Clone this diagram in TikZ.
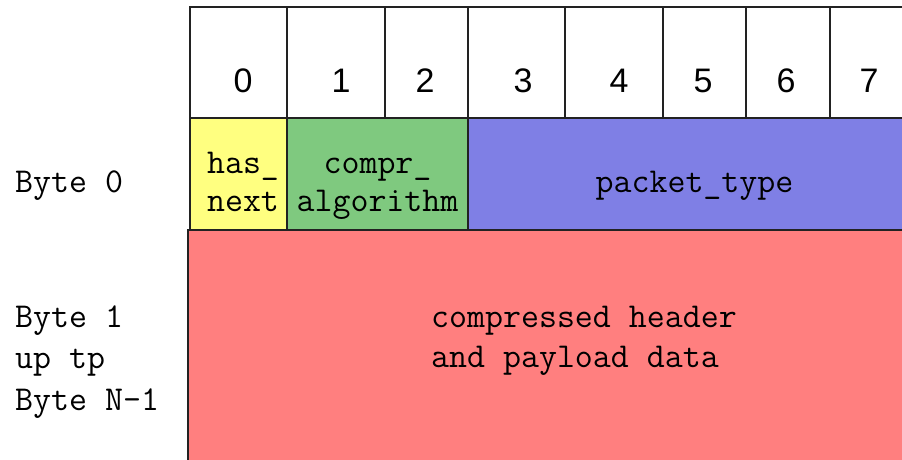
\documentclass[tikz,border=0pt]{standalone}
\usepackage{fontspec}
\newfontfamily\sansf{Liberation Sans}
\definecolor{cellline}{HTML}{222222}
\definecolor{fyellow}{HTML}{FFFF80}
\definecolor{fgreen}{HTML}{7FC97F}
\definecolor{fblue}{HTML}{7F7FE5}
\definecolor{fred}{HTML}{FF7F7F}
\begin{document}
\begin{tikzpicture}[x=1pt,y=-1pt,
  cell/.style={draw=cellline,line width=1.3pt},
  bitnum/.style={font=\sansf\fontsize{34}{40}\selectfont,inner sep=0pt,anchor=base},
  txt/.style={font=\ttfamily\fontsize{34.9}{40}\selectfont,inner sep=0pt,anchor=base},
  txtl/.style={txt,anchor=base west}]
\useasboundingbox (0,0) rectangle (902,459);
\clip (0,0) rectangle (902,459);
% payload area
\fill[fred] (188,230) rectangle (1000,520);
\draw[cell] (188,520) -- (188,230) -- (1000,230);
% byte 0 fields
\filldraw[cell,fill=fyellow] (190,118) rectangle (287,230);
\filldraw[cell,fill=fgreen] (287,118) rectangle (468,230);
\filldraw[cell,fill=fblue] (468,118) rectangle (1000,230);
% bit index header
\draw[cell] (190,7) rectangle (1000,118);
\foreach \xx in {287,385,468,565,663,746,830,913}
  \draw[cell] (\xx,7) -- (\xx,118);
\node[bitnum] (b0) at (243,92) {0};
\node[bitnum] (b1) at (341,92) {1};
\node[bitnum] (b2) at (425,92) {2};
\node[bitnum] (b3) at (523,92) {3};
\node[bitnum] (b4) at (619,92) {4};
\node[bitnum] (b5) at (703,92) {5};
\node[bitnum] (b6) at (786,92) {6};
\node[bitnum] (b7) at (869,92) {7};
% field names
\node[txt] (hn1) at (243,173) {has\_};
\node[txt] (hn2) at (243,211) {next};
\node[txt] (ca1) at (377.5,173) {compr\_};
\node[txt] (ca2) at (377.5,211) {algorithm};
\node[txt] (pt) at (694.5,192) {packet\_type};
\node[txtl] (pl1) at (431,327) {compressed header};
\node[txtl] (pl2) at (431,367) {and payload data};
% row labels
\node[txtl] (r0) at (15,192) {Byte 0};
\node[txtl] (r1a) at (15,327) {Byte 1};
\node[txtl] (r1b) at (15,368) {up tp};
\node[txtl] (r1c) at (15,410) {Byte N-1};
\end{tikzpicture}
\end{document}
